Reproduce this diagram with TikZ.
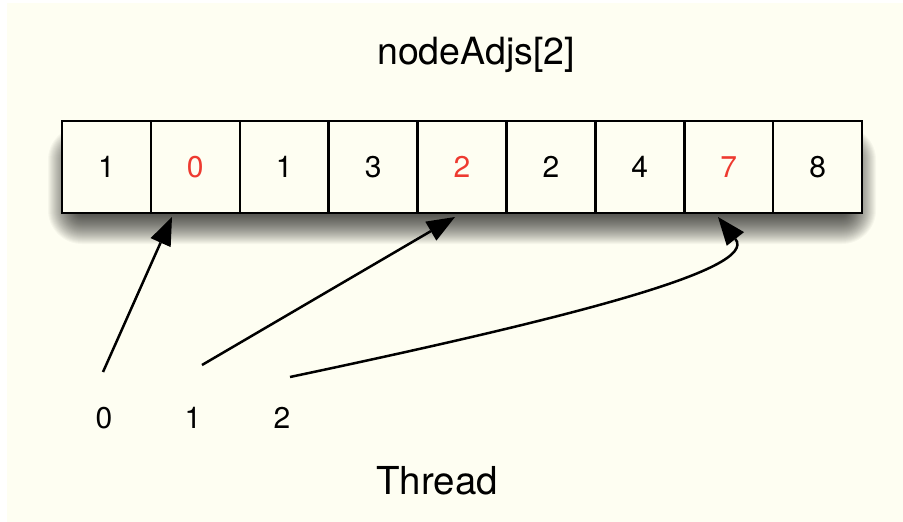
\documentclass[tikz,border=0pt]{standalone}
\usepackage{fontspec}
\setmainfont{TeX Gyre Heros}
\usetikzlibrary{arrows.meta}
\definecolor{cream}{RGB}{254,254,242}
\definecolor{numred}{RGB}{238,58,48}
\tikzset{
  cell/.style={draw=black, line width=2.5pt, fill=cream, minimum width=88.9pt, minimum height=92pt, inner sep=0pt, font=\fontsize{30}{36}\selectfont},
  lbl/.style={inner sep=0pt, font=\fontsize{30}{36}\selectfont},
  ttl/.style={inner sep=0pt, font=\fontsize{37.5}{44}\selectfont},
  ptr/.style={draw=black, line width=2.5pt, -{Triangle[length=28pt,width=22pt,fill=black,line width=0pt]}},
  shadowlayer/.style={fill=black, fill opacity=0.03, draw=none},
}
\begin{document}
\begin{tikzpicture}[x=1pt,y=-1pt]
\useasboundingbox (0,0) rectangle (903,522);
\fill[white] (0,0) rectangle (903,522);
\fill[cream] (7,3) rectangle (903,522);
\foreach \r in {-6,-5,...,26} {
  \pgfmathsetmacro{\rc}{\r+8}
  \path[shadowlayer, rounded corners=\rc pt] (74-\r,152-\r) rectangle (850+\r,218+\r);
}
\node[cell] (c0) at (106.4,167) {1};
\node[cell, text=numred] (c1) at (195.3,167) {0};
\node[cell] (c2) at (284.2,167) {1};
\node[cell] (c3) at (373.1,167) {3};
\node[cell, text=numred] (c4) at (462,167) {2};
\node[cell] (c5) at (550.9,167) {2};
\node[cell] (c6) at (639.8,167) {4};
\node[cell, text=numred] (c7) at (728.7,167) {7};
\node[cell] (c8) at (817.6,167) {8};
\node[ttl] (title) at (476,55) {nodeAdjs[2]};
\node[ttl, font=\fontsize{38.5}{45}\selectfont] (thread) at (437,481) {Thread};
\node[lbl] (t0) at (104,418) {0};
\node[lbl] (t1) at (193,418) {1};
\node[lbl] (t2) at (282,418) {2};
\coordinate (s0) at (103,372);
\coordinate (s1) at (202,365);
\coordinate (s2) at (290,377);
\coordinate (e0) at (172,217);
\coordinate (e1) at (455,217);
\coordinate (e2) at (718,217);
\draw[ptr] (s0) -- (e0);
\draw[ptr] (s1) -- (e1);
\draw[ptr] (s2) .. controls (560,320) and (760,270) .. (e2);
\end{tikzpicture}
\end{document}
